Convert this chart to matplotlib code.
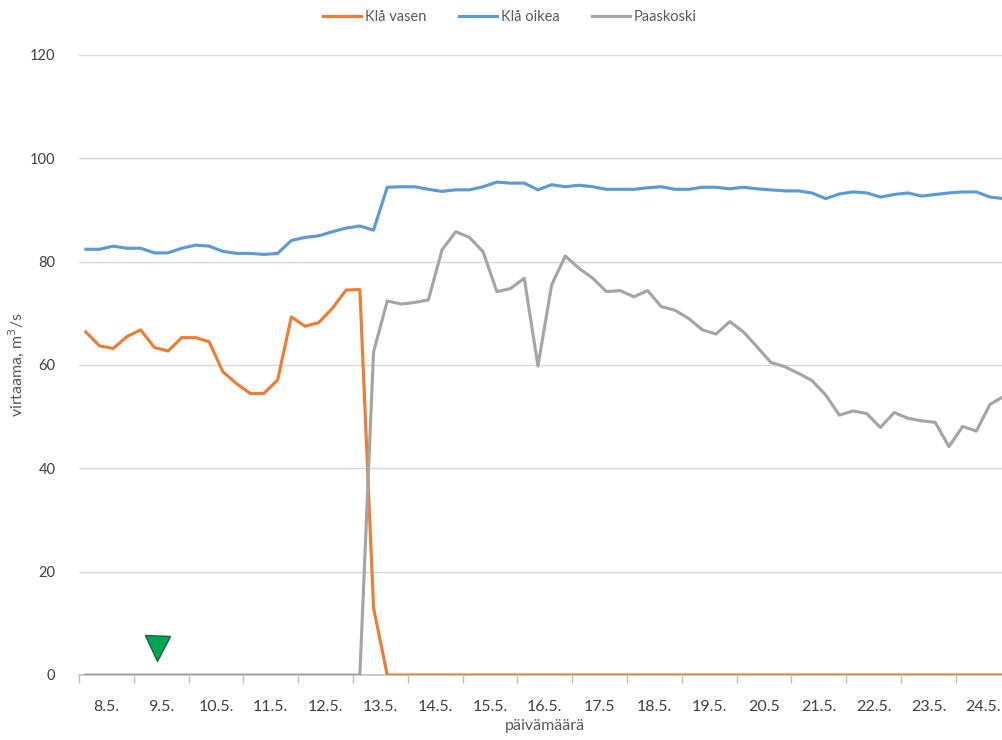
import matplotlib

matplotlib.use("Agg")

import matplotlib.pyplot as plt
import numpy as np

# six-hourly discharge, 4 readings per day starting 8.5.
dates = ["8.5.", "9.5.", "10.5.", "11.5.", "12.5.", "13.5.", "14.5.", "15.5.",
         "16.5.", "17.5", "18.5.", "19.5.", "20.5", "21.5.", "22.5.", "23.5.", "24.5."]

kla_vasen = [66.4, 63.7, 63.2, 65.5, 66.8, 63.4, 62.7, 65.3, 65.3, 64.5, 58.7, 56.4,
             54.5, 54.5, 57.1, 69.3, 67.5, 68.2, 71.0, 74.5, 74.6, 13.0] + [0.0] * 46

kla_oikea = [82.4, 82.4, 83.0, 82.6, 82.6, 81.7, 81.7, 82.6, 83.2, 83.0, 82.0, 81.6,
             81.6, 81.4, 81.6, 84.1, 84.7, 85.0, 85.8, 86.5, 86.9, 86.1, 94.4, 94.5,
             94.5, 94.0, 93.6, 93.9, 93.9, 94.5, 95.4, 95.2, 95.2, 93.9, 94.9, 94.5,
             94.8, 94.5, 94.0, 94.0, 94.0, 94.3, 94.5, 94.0, 94.0, 94.4, 94.4, 94.1,
             94.4, 94.1, 93.9, 93.7, 93.7, 93.3, 92.2, 93.1, 93.5, 93.3, 92.5, 93.0,
             93.3, 92.7, 93.0, 93.3, 93.5, 93.5, 92.5, 92.2]

paaskoski = [0.0] * 21 + [
    62.5, 72.4, 71.8, 72.1, 72.6, 82.3, 85.8, 84.7, 81.9, 74.2, 74.8, 76.8,
    59.8, 75.5, 81.1, 78.7, 76.8, 74.2, 74.4, 73.2, 74.4, 71.3, 70.6, 69.0,
    66.8, 66.0, 68.4, 66.4, 63.5, 60.5, 59.7, 58.4, 57.0, 54.2, 50.3, 51.1,
    50.6, 47.9, 50.8, 49.7, 49.2, 48.9, 44.2, 48.1, 47.2, 52.4, 53.9]

# start of the works, marked on the time axis
marker_day = 1.42
marker_level = 5.2

plt.rcParams["font.family"] = ["Lato", "DejaVu Sans"]

fig = plt.figure(figsize=(10.03, 7.40), dpi=100)
# plot area runs slightly past the right edge of the image
ax = fig.add_axes([79 / 1003, 65 / 740, 931.6 / 1003, 620 / 740])

x = (np.arange(len(kla_oikea)) + 0.5) / 4.0

ax.plot(x, kla_vasen, color="#ED7D31", lw=2.25, label="Klå vasen", zorder=3)
ax.plot(x, kla_oikea, color="#5B9BD5", lw=2.25, label="Klå oikea", zorder=3)
ax.plot(x, paaskoski, color="#A5A5A5", lw=2.25, label="Paaskoski", zorder=3)

ax.plot([marker_day], [marker_level], marker="v", ms=18, color="#00A651",
        markeredgecolor="#1E5E3C", markeredgewidth=1.0, zorder=4)

ax.set_xlim(0, len(dates))
ax.set_ylim(0, 120)

ax.set_xticks(np.arange(len(dates) + 1))
ax.set_xticklabels([])
ax.set_xticks(np.arange(len(dates)) + 0.5, minor=True)
ax.set_xticklabels(dates, minor=True)
ax.tick_params(axis="x", which="major", length=6, width=1.0, color="#BFBFBF", direction="out")
ax.tick_params(axis="x", which="minor", length=0, pad=18, labelsize=11.5, labelcolor="#404040")

ax.set_yticks(np.arange(0, 121, 20))
ax.tick_params(axis="y", length=0, pad=17, labelsize=10.5, labelcolor="#404040")

ax.grid(axis="y", color="#D9D9D9", lw=1.0)
ax.set_axisbelow(True)
for side in ("top", "right", "left"):
    ax.spines[side].set_visible(False)
ax.spines["bottom"].set_color("#BFBFBF")
ax.spines["bottom"].set_linewidth(1.2)

ax.set_ylabel("virtaama, m$^3$/s", fontsize=11.5, color="#595959")
ax.yaxis.set_label_coords(-0.057, 0.5)
ax.set_xlabel("päivämäärä", fontsize=11.5, color="#595959")
ax.xaxis.set_label_coords(0.5, -0.071)

fig.legend(loc="center", bbox_to_anchor=(510 / 1003, 1 - 17 / 740), ncol=3,
           frameon=False, fontsize=10.5, handlelength=2.6, handletextpad=0.3,
           columnspacing=2.2, labelcolor="#595959")

fig.savefig("out.png", dpi=100)
